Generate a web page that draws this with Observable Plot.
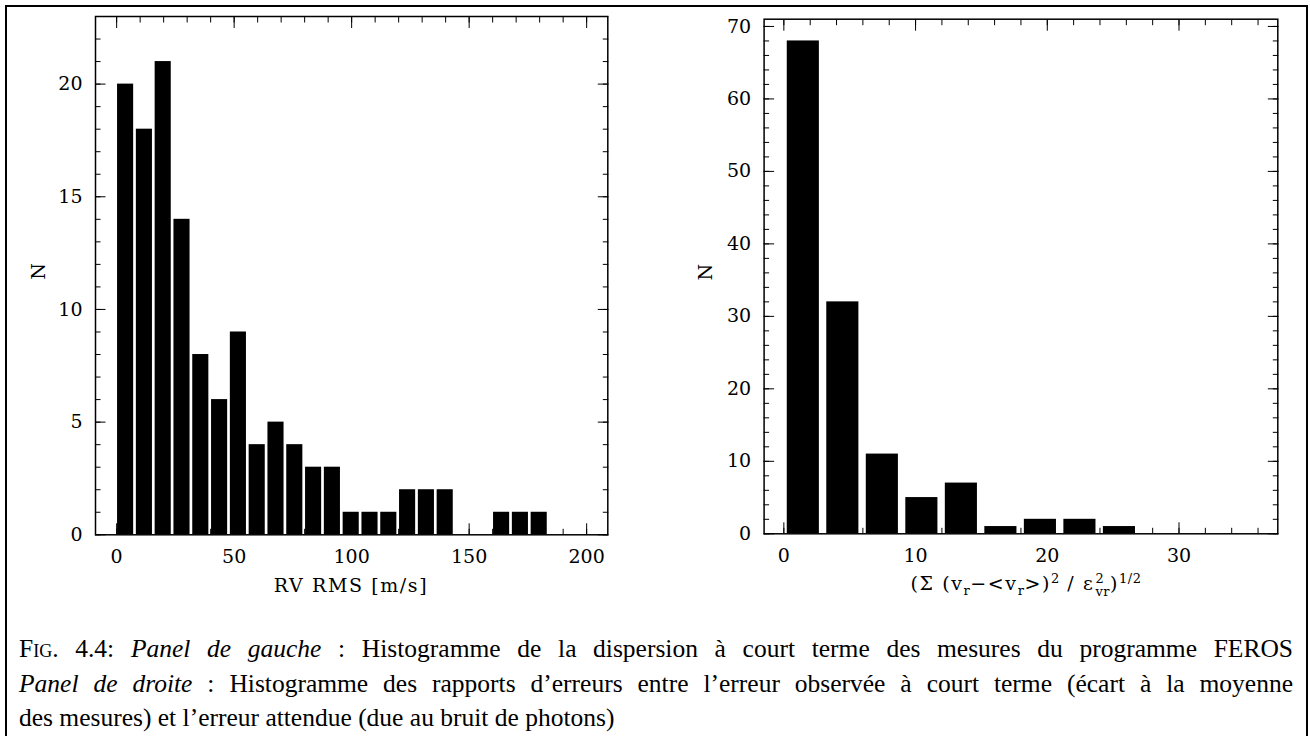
<!DOCTYPE html>
<html><head><meta charset="utf-8">
<script src="https://cdn.jsdelivr.net/npm/d3@7"></script>
<script src="https://cdn.jsdelivr.net/npm/@observablehq/plot@0.6"></script>
<style>
html,body{margin:0;padding:0;background:#fff;}
body{width:1310px;height:736px;overflow:hidden;position:relative;}
#box{position:absolute;left:5px;top:5px;width:1299px;height:800px;border:2px solid #000;border-bottom:none;}
.panel{position:absolute;top:0;}
.xlabel{position:absolute;font-family:"DejaVu Serif";font-size:19px;letter-spacing:1.6px;white-space:nowrap;transform:translate(-50%,-50%);line-height:1;}
.xlabel sub,.xlabel sup{font-size:13px;line-height:0;letter-spacing:0.5px;}
.stack{display:inline-flex;flex-direction:column;vertical-align:middle;font-size:13px;line-height:1;margin-left:1px;letter-spacing:0.5px;}
.cap{position:absolute;left:19px;width:1274px;font-family:"Liberation Serif","Times New Roman",serif;font-size:25.5px;white-space:nowrap;line-height:1;color:#000;}
.just{text-align:justify;text-align-last:justify;}
.sc{font-variant:small-caps;}
</style></head>
<body>
<div id="box"></div>
<div id="left" class="panel" style="left:0px"></div>
<div id="right" class="panel" style="left:640px"></div>
<div class="xlabel" style="left:351px;top:585px">RV RMS [m/s]</div>
<div class="xlabel" style="left:1026px;top:585px">(Σ (v<sub>r</sub>−&lt;v<sub>r</sub>&gt;)<sup>2</sup> / ε<span class="stack"><span>2</span><span>vr</span></span>)<sup>1/2</sup></div>
<div class="cap just" style="top:636px"><span class="sc">Fig</span>. 4.4: <i>Panel de gauche</i> : Histogramme de la dispersion à court terme des mesures du programme FEROS</div>
<div class="cap just" style="top:671px"><i>Panel de droite</i> : Histogramme des rapports d’erreurs entre l’erreur observée à court terme (écart à la moyenne</div>
<div class="cap" style="top:705px">des mesures) et l’erreur attendue (due au bruit de photons)</div>
<script>
// Left panel: RV RMS histogram (bins of 8 m/s)
const leftBinEdges = [0,8,16,24,32,40,48,56,64,72,80,88,96,104,112,120,128,136,144,152,160,168,176,184];
const leftCounts   = [20,18,21,14,8,6,9,4,5,4,3,3,1,1,1,2,2,2,0,0,1,1,1];
const leftXTicks   = [0,50,100,150,200];
const leftYTicks   = [0,5,10,15,20];

// Right panel: error ratio histogram (bins of 3)
const rightBinEdges = [0,3,6,9,12,15,18,21,24,27];
const rightCounts   = [68,32,11,5,7,1,2,2,1];
const rightXTicks   = [0,10,20,30];
const rightYTicks   = [0,10,20,30,40,50,60,70];

const yLabel = "N";

function rows(edges, counts) {
  return counts.map((n, i) => ({x1: edges[i], x2: edges[i + 1], n}));
}

function panel(o) {
  return Plot.plot({
    width: o.width, height: o.height,
    marginLeft: o.ml, marginRight: o.mr, marginTop: o.mt, marginBottom: o.mb,
    x: {domain: o.xDomain},
    y: {domain: o.yDomain},
    style: {fontFamily: "DejaVu Serif", fontSize: "19px", color: "#000", background: "transparent", overflow: "visible"},
    marks: [
      Plot.rectY(o.data, {x1: "x1", x2: "x2", y: "n", fill: "#000", insetLeft: o.il, insetRight: o.ir}),
      Plot.frame({stroke: "#000", strokeWidth: 1.5}),
      // tick labels
      Plot.axisX(o.xTicks, {anchor: "bottom", tickSize: 0, tickPadding: 15, label: null}),
      Plot.axisY(o.yTicks, {anchor: "left", tickSize: 0, tickPadding: 13, label: null}),
      // inward major ticks
      Plot.axisX(o.xTicks, {anchor: "bottom", tickSize: -11, tickFormat: () => "", label: null}),
      Plot.axisX(o.xTicks, {anchor: "top", tickSize: -11, tickFormat: () => "", label: null}),
      Plot.axisY(o.yTicks, {anchor: "left", tickSize: -10.5, tickFormat: () => "", label: null}),
      Plot.axisY(o.yTicks, {anchor: "right", tickSize: -10.5, tickFormat: () => "", label: null}),
      // inward minor ticks
      Plot.axisX(o.xMinor, {anchor: "bottom", tickSize: -5.5, tickFormat: () => "", label: null}),
      Plot.axisX(o.xMinor, {anchor: "top", tickSize: -5.5, tickFormat: () => "", label: null}),
      Plot.axisY(o.yMinor, {anchor: "left", tickSize: -5.5, tickFormat: () => "", label: null}),
      Plot.axisY(o.yMinor, {anchor: "right", tickSize: -5.5, tickFormat: () => "", label: null}),
      Plot.text([yLabel], {frameAnchor: "left", dx: o.ndx, dy: 4, rotate: -90, fontSize: 19})
    ]
  });
}

document.getElementById("left").append(panel({
  width: 640, height: 600, ml: 95, mr: 32.7, mt: 16, mb: 65.7,
  xDomain: [-9, 209], yDomain: [0, 23],
  data: rows(leftBinEdges, leftCounts), il: 0.9, ir: 1.8,
  xTicks: leftXTicks, yTicks: leftYTicks,
  xMinor: d3.range(0, 201, 10), yMinor: d3.range(0, 24, 1),
  ndx: -57
}));

document.getElementById("right").append(panel({
  width: 670, height: 600, ml: 123.6, mr: 32.7, mt: 18.7, mb: 66.7,
  xDomain: [-1.5, 37.5], yDomain: [0, 71],
  data: rows(rightBinEdges, rightCounts), il: 3.4, ir: 4,
  xTicks: rightXTicks, yTicks: rightYTicks,
  xMinor: d3.range(0, 38, 2), yMinor: d3.range(0, 71, 2),
  ndx: -58
}));
</script>
</body></html>
